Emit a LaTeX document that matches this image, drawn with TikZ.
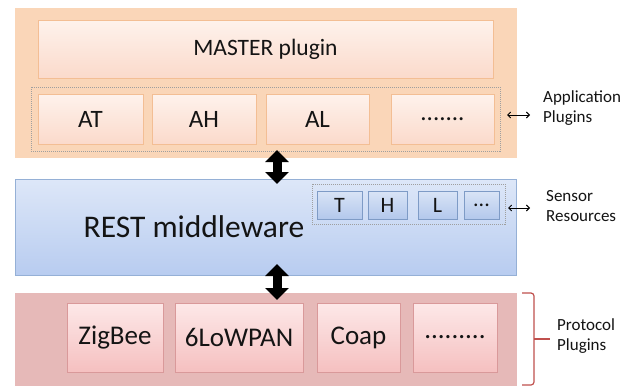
\documentclass[tikz,border=0pt]{standalone}
\usepackage{fontspec}
\setmainfont{Carlito}
\usetikzlibrary{arrows.meta}

% layer palette
\definecolor{apOuter}{HTML}{FAD6B8}
\definecolor{apEdge}{HTML}{F3BE94}
\definecolor{apTop}{HTML}{FEF2EC}
\definecolor{apBot}{HTML}{FBDACB}
\definecolor{mwTop}{HTML}{DDE7F8}
\definecolor{mwBot}{HTML}{B8CCF0}
\definecolor{mwEdge}{HTML}{95B0D6}
\definecolor{srTop}{HTML}{D9E4F6}
\definecolor{srBot}{HTML}{B3C8EC}
\definecolor{srEdge}{HTML}{7E9BC6}
\definecolor{prOuter}{HTML}{E6B9B8}
\definecolor{prEdge}{HTML}{D9999A}
\definecolor{prTop}{HTML}{FDE8E8}
\definecolor{prBot}{HTML}{F5C0C0}
\definecolor{braceRed}{HTML}{C0504D}
\definecolor{ink}{HTML}{141414}

\tikzset{
  box/.style={rectangle, inner sep=0pt, outer sep=0pt, line width=0.9pt, text=ink},
  apouter/.style={box, fill=apOuter, draw=apOuter},
  apbox/.style={box, draw=apEdge, top color=apTop, bottom color=apBot},
  mwouter/.style={box, draw=mwEdge, top color=mwTop, bottom color=mwBot},
  srbox/.style={box, draw=srEdge, top color=srTop, bottom color=srBot,
    font=\fontsize{22}{22}\selectfont},
  prouter/.style={box, fill=prOuter, draw=prOuter},
  prbox/.style={box, draw=prEdge, top color=prTop, bottom color=prBot,
    font=\fontsize{27}{27}\selectfont},
  group/.style={rectangle, inner sep=0pt, outer sep=0pt, draw=gray!75,
    line width=0.8pt, dash pattern=on 1pt off 1pt},
  sidelabel/.style={anchor=west, inner sep=0pt, align=left, text=ink,
    font=\fontsize{17}{20}\selectfont},
  sidearrow/.style={{Straight Barb[length=3pt,width=6pt]}-{Straight Barb[length=3pt,width=6pt]}, line width=0.9pt},
  bigarrow/.style={{Triangle[width=23pt,length=12pt]}-{Triangle[width=23pt,length=12pt]}, line width=9pt, black},
}

\begin{document}
\begin{tikzpicture}[x=1pt, y=-1pt]
\useasboundingbox[fill=white] (0,0) rectangle (635,388);

% application plugin layer
\node[apouter, minimum width=501pt, minimum height=149pt] (app) at (265.5,82.5) {};
\node[apbox, minimum width=455pt, minimum height=58pt,
  font=\fontsize{23.5}{23.5}\selectfont] (master) at (265.5,49) {MASTER plugin};
\node[group, minimum width=469pt, minimum height=64pt] (appgroup) at (265.5,119) {};
\begin{scope}[every node/.append style={apbox, minimum height=50pt, font=\fontsize{25}{25}\selectfont}]
  \node[minimum width=105pt] (at) at (90.5,119) {AT};
  \node[minimum width=104pt] (ah) at (204,119) {AH};
  \node[minimum width=103pt] (al) at (317.5,119) {AL};
  \node[minimum width=103pt] (amore) at (442.5,119) {.......};
\end{scope}
\node[sidelabel] (applabel) at (543,108) {Application\\Plugins};
\draw[sidearrow] ([shift={(7,-4)}]appgroup.east) -- ([shift={(30,-4)}]appgroup.east);

% REST middleware layer
\node[mwouter, minimum width=501pt, minimum height=96pt] (mw) at (265.5,227) {};
\node[anchor=base, inner sep=0pt, text=ink, font=\fontsize{31.5}{31.5}\selectfont] (rest) at (194,237) {REST middleware};
\node[group, minimum width=193pt, minimum height=40pt] (srgroup) at (408.5,204) {};
\node[srbox, minimum width=45pt, minimum height=28pt] (t) at (339.5,205) {T};
\node[srbox, minimum width=39pt, minimum height=28pt] (h) at (387.5,205) {H};
\node[srbox, minimum width=39pt, minimum height=28pt] (l) at (437.5,205) {L};
\node[srbox, minimum width=35pt, minimum height=28pt] (smore) at (481.5,205) {...};
\node[sidelabel] (srlabel) at (546,206) {Sensor\\Resources};
\draw[sidearrow] ([shift={(3,4)}]srgroup.east) -- ([shift={(25,4)}]srgroup.east);

% protocol plugin layer
\node[prouter, minimum width=501pt, minimum height=92pt] (pr) at (265.5,339) {};
\node[prbox, minimum width=96pt, minimum height=69pt] (zigbee) at (115,337.5) {ZigBee};
\node[prbox, minimum width=128pt, minimum height=69pt] (lowpan) at (239,337.5) {6LoWPAN};
\node[prbox, minimum width=83pt, minimum height=69pt] (coap) at (358.5,337.5) {Coap};
\node[prbox, minimum width=84pt, minimum height=69pt] (pmore) at (455,337.5) {.........};
\node[sidelabel] (prlabel) at (557,336) {Protocol\\Plugins};

% bracket marking the protocol layer
\draw[braceRed, line width=1.2pt, rounded corners=3pt]
  ([shift={(6,0)}]pr.north east) -| ([shift={(18,0)}]pr.east)
  |- ([shift={(6,0)}]pr.south east);
\draw[braceRed, line width=1.2pt] ([shift={(18,0)}]pr.east) -- ([shift={(34,0)}]pr.east);

% data flow between the layers
\draw[bigarrow] ([xshift=11.5pt, yshift=7pt]app.south) -- ([xshift=11.5pt, yshift=-5pt]mw.north);
\draw[bigarrow] ([xshift=11.5pt, yshift=11pt]mw.south) -- ([xshift=11.5pt, yshift=-7pt]pr.north);
\end{tikzpicture}
\end{document}
